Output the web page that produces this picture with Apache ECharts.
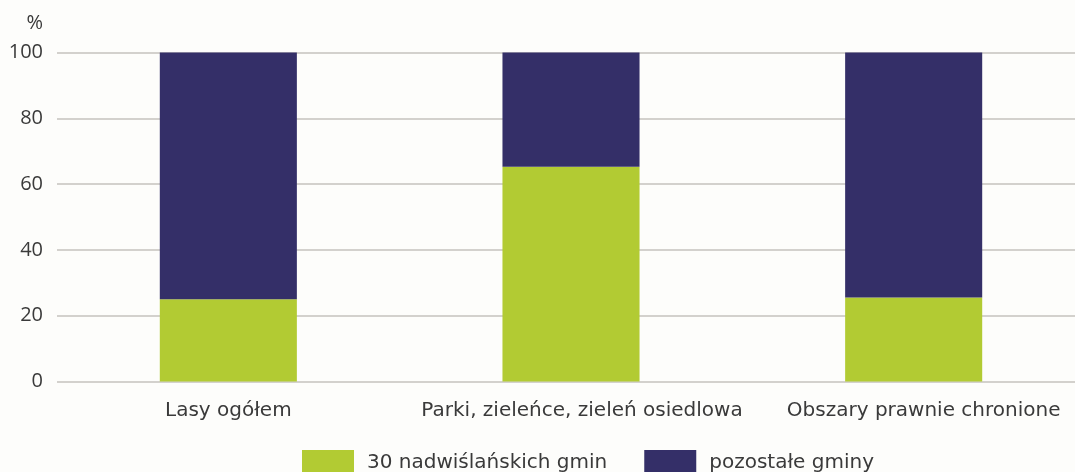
<!DOCTYPE html>
<html><head><meta charset="utf-8">
<script src="https://cdn.jsdelivr.net/npm/echarts@6/dist/echarts.min.js"></script>
<style>html,body{margin:0;padding:0;background:#fdfdfb;}#c{width:1075px;height:472px;}</style>
</head><body><div id="c"></div>
<script>
const categories = ['Lasy ogółem', 'Parki, zieleńce, zieleń osiedlowa', 'Obszary prawnie chronione'];
const seriesNames = ['30 nadwiślańskich gmin', 'pozostałe gminy'];
const nadwislanskie = [25, 65.3, 25.5];
const pozostale = [75, 34.7, 74.5];
const yTicks = [0, 20, 40, 60, 80, 100];

const font = '"DejaVu Sans", sans-serif';
const numFont = '"Open Sans", sans-serif';
const txt = '#3a3a3a';
const labelShift = [0, 22, 20];
const chart = echarts.init(document.getElementById('c'));
chart.setOption({
  backgroundColor: '#fdfdfb',
  animation: false,
  grid: { left: 57, width: 1028, top: 52.5, bottom: 90.5, outerBoundsMode: 'none', containLabel: false },
  legend: {
    data: seriesNames, top: 450, left: 302, padding: 0, itemWidth: 52, itemHeight: 26, itemGap: 37,
    icon: 'rect',
    textStyle: { fontFamily: font, fontSize: 20, color: txt, padding: [0, 0, 0, 8] }
  },
  xAxis: {
    type: 'category',
    data: categories.map((c, i) => ({ value: c, textStyle: { padding: [0, 0, 0, labelShift[i]] } })),
    axisLine: { show: false }, axisTick: { show: false },
    axisLabel: { fontFamily: font, fontSize: 20, color: txt, margin: 19, interval: 0 }
  },
  yAxis: {
    type: 'value', min: yTicks[0], max: yTicks[yTicks.length - 1], interval: 20,
    name: '%', nameLocation: 'end', nameGap: 19,
    nameTextStyle: { fontFamily: numFont, fontSize: 20, color: txt, align: 'right', padding: [0, 14, 0, 0] },
    axisLine: { show: false }, axisTick: { show: false },
    axisLabel: { fontFamily: numFont, fontSize: 20, color: txt, margin: 14 },
    splitLine: { lineStyle: { color: '#d3d1cd', width: 2 } }
  },
  series: [
    { name: seriesNames[0], type: 'bar', stack: 's', data: nadwislanskie, barWidth: '40%', itemStyle: { color: '#b2cb33' } },
    { name: seriesNames[1], type: 'bar', stack: 's', data: pozostale, barWidth: '40%', itemStyle: { color: '#342f68' } }
  ]
});
</script></body></html>
